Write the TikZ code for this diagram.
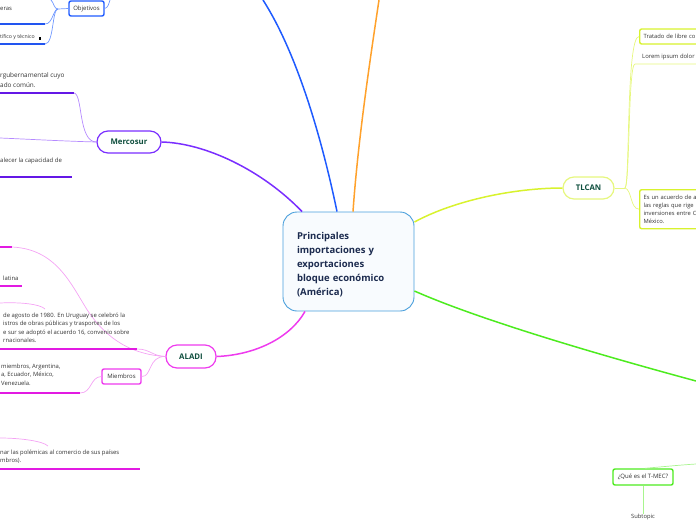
\documentclass[tikz,border=0pt]{standalone}
\usepackage{fontspec}
\setmainfont{Open Sans}

\definecolor{rootline}{HTML}{4A9FDC}
\definecolor{rootfill}{HTML}{F8FBFE}
\definecolor{roottext}{HTML}{1C2B4F}
\definecolor{topictext}{HTML}{0F4F3E}
\definecolor{leaftext}{HTML}{333333}
\definecolor{bluebr}{HTML}{1F5BFF}
\definecolor{bluetw}{HTML}{7098FF}
\definecolor{blueul}{HTML}{2255F0}
\definecolor{orangebr}{HTML}{FFA12B}
\definecolor{purplebr}{HTML}{7A2EFF}
\definecolor{purpletw}{HTML}{B58AFF}
\definecolor{purpleul}{HTML}{6418E6}
\definecolor{yellbr}{HTML}{D8F22E}
\definecolor{yelltw}{HTML}{E6F77E}
\definecolor{greenbr}{HTML}{4DEB1F}
\definecolor{greentw}{HTML}{A8F58E}
\definecolor{magbr}{HTML}{EE3BEE}
\definecolor{magtw}{HTML}{F4A3F4}
\definecolor{magul}{HTML}{E21AE2}

\begin{document}
\begin{tikzpicture}[x=1pt,y=-1pt,
  centre/.style={draw=rootline,fill=rootfill,line width=0.9pt,rounded corners=14,
    minimum width=131,minimum height=99,text width=103,inner xsep=14,align=left,
    font=\bfseries\fontsize{9.5}{14}\selectfont,text=roottext},
  topic/.style={draw,rounded corners=11,line width=1.2pt,fill=white,inner sep=0,
    minimum height=22,font=\bfseries\fontsize{7.8}{9}\selectfont,text=topictext},
  sub/.style={draw,rounded corners=2,line width=1.4pt,fill=white,inner sep=0,
    minimum height=15,font=\fontsize{6}{7}\selectfont,text=leaftext},
  box/.style={draw,rounded corners=2,line width=1.4pt,fill=white,inner xsep=4,inner ysep=0,
    text width=72,align=left,font=\fontsize{5.8}{8.2}\selectfont,text=leaftext},
  leaf/.style={inner sep=0,align=left,font=\fontsize{5.9}{8.5}\selectfont,text=leaftext},
  branch/.style={line width=1.5pt},
  twig/.style={line width=0.7pt},
  uline/.style={line width=1.5pt}]
\useasboundingbox (0,0) rectangle (696,520);

\node[centre] (root) at (348.5,261.5) {\rule{0pt}{12.5pt}Principales\\importaciones y\\exportaciones\\bloque económico\\(América)};

\coordinate (blueend) at (263,0);
\coordinate (orangeend) at (379,0);
\coordinate (greenend) at (696,381);
\draw[branch,bluebr] ([xshift=-11.5pt]root.north) .. controls (320,130) and (295,50) .. (blueend);
\draw[branch,orangebr] ([xshift=4.5pt]root.north) .. controls (358,140) and (370,60) .. (orangeend);

\node[topic,draw=purplebr,minimum width=64] (mercosur) at (129,142) {Mercosur};
\draw[branch,purplebr] (mercosur.east) .. controls (205,143) and (262,170) .. ([xshift=-46.5pt]root.north);
\node[leaf,anchor=north west,font=\fontsize{6.4}{10}\selectfont] (mtext1) at (0,72) {rgubernamental cuyo\\ado común.};
\coordinate (mline1) at (74,93);
\draw[uline,purpleul] (0,93) -- (mline1);
\draw[twig,purpletw] (mline1) .. controls (83,94) and (78,142) .. (mercosur.west);
\coordinate (mleft) at (0,138);
\draw[twig,purpletw] (mercosur.west) .. controls (60,141) and (25,139) .. (mleft);
\node[leaf,anchor=west,font=\fontsize{6}{8.5}\selectfont] (mtext2) at (0,161) {alecer la capacidad de};
\draw[uline,purpleul] (0,177) -- (72,177);

\node[sub,draw=bluebr,minimum width=35] (objetivos) at (86.5,8.5) {Objetivos};
\coordinate (objtop) at (110,0);
\draw[twig,bluetw] (objetivos.east) .. controls (108,8) and (109,3) .. (objtop);
\coordinate (objfork) at (58,9);
\draw[twig,bluetw] (objetivos.west) -- (objfork);
\coordinate (objup) at (51,0);
\draw[twig,bluetw] (objfork) .. controls (54,9) and (54,3) .. (objup);
\coordinate (objmid) at (45,24);
\draw[twig,bluetw] (objfork) .. controls (53,9) and (53,24) .. (objmid);
\coordinate (objlow) at (45,44);
\draw[twig,bluetw] (objfork) .. controls (52,9) and (54,44) .. (objlow);
\draw[uline,blueul] (0,24) -- (objmid);
\draw[uline,blueul] (0,44) -- (objlow);
\node[leaf,anchor=west] (otext1) at (0,9) {eras};
\node[leaf,anchor=west,font=\fontsize{5.2}{8}\selectfont] (otext2) at (0,37) {tífico y técnico};
\fill (38.5,37) rectangle (40.5,39.5);

\node[topic,draw=magbr,minimum width=50,minimum height=23] (aladi) at (191,356.5) {ALADI};
\draw[branch,magbr] (aladi.east) .. controls (255,355) and (290,338) .. ([xshift=-43.5pt]root.south);
\coordinate (atop) at (12,247);
\draw[uline,magul] (0,247) -- (atop);
\draw[twig,magtw] (atop) .. controls (55,249) and (70,282) .. (86,308) .. controls (102,333) and (125,354) .. (aladi.west);
\node[leaf,anchor=west] (atext1) at (3,278) {latina};
\draw[uline,magul] (0,286) -- (22,286);
\draw[twig,magtw] (0,303) .. controls (20,302) and (40,304) .. (45,309);
\node[leaf,anchor=north west] (atext2) at (3,312.5) {de agosto de 1980. En Uruguay se celebró la\\istros de obras públicas y trasportes de los\\e sur se adoptó el acuerdo 16, convenio sobre\\rnacionales.};
\coordinate (aline2) at (137,349);
\draw[uline,magul] (0,349) -- (aline2);
\draw[twig,magtw] (aline2) .. controls (150,349) and (152,356) .. (aladi.west);

\node[sub,draw=magbr,minimum width=39] (miembros) at (121.5,376.5) {Miembros};
\draw[twig,magtw] (miembros.east) .. controls (152,377) and (148,356) .. (aladi.west);
\coordinate (mmline) at (80,393);
\draw[twig,magtw] (miembros.west) .. controls (90,377) and (92,393) .. (mmline);
\draw[uline,magul] (0,393) -- (mmline);
\node[leaf,anchor=north west] (atext3) at (1,363.5) {miembros, Argentina,\\a, Ecuador, México,\\Venezuela.};

\draw[twig,magtw] (0,438) .. controls (20,438) and (43,441) .. (48,446);
\node[leaf,anchor=north west] (atext4) at (0,449.5) {nar las polémicas al comercio de sus países\\mbros).};
\draw[uline,magul] (0,469) -- (140,469);

\node[topic,draw=yelltw,minimum width=51] (tlcan) at (588.5,188) {TLCAN};
\draw[branch,yellbr] ([yshift=39.5pt]root.east) .. controls (455,200) and (515,188) .. (tlcan.west);
\node[box,draw=yellbr,anchor=west,minimum height=15] (tratado) at (639,36.5) {Tratado de libre co};
\node[leaf,anchor=west] (lorem) at (642,57) {Lorem ipsum dolor};
\node[box,draw=yellbr,anchor=north west,minimum height=39] (acuerdo) at (639,189) {Es un acuerdo de a\\las reglas que rige\\inversiones entre C\\México.};
\coordinate (tfork) at (625,188);
\coordinate (loremline) at (635,64);
\draw[twig,yelltw] (tlcan.east) -- (tfork);
\draw[twig,yelltw] (tfork) .. controls (630,185) and (626,36.5) .. (tratado.west);
\draw[twig,yelltw] (tfork) .. controls (630,185) and (628,64) .. (loremline) -- (696,64);
\draw[twig,yelltw] (tfork) .. controls (632,190) and (630,208.5) .. (acuerdo.west);

\draw[branch,greenbr] ([yshift=-29.5pt]root.east) .. controls (480,320) and (600,355) .. (greenend);
\node[sub,draw=greenbr,minimum width=60,minimum height=16] (tmec) at (643,477) {¿Qué es el T-MEC?};
\coordinate (tmecin) at (696,464);
\draw[twig,greentw] ([xshift=2pt]tmec.north) .. controls (660,467) and (680,465) .. (tmecin);
\node[leaf,font=\fontsize{5.8}{7}\selectfont] (subtopic) at (643,517) {Subtopic};
\draw[twig,greentw] (tmec.south) -- (subtopic.north);
\end{tikzpicture}
\end{document}
